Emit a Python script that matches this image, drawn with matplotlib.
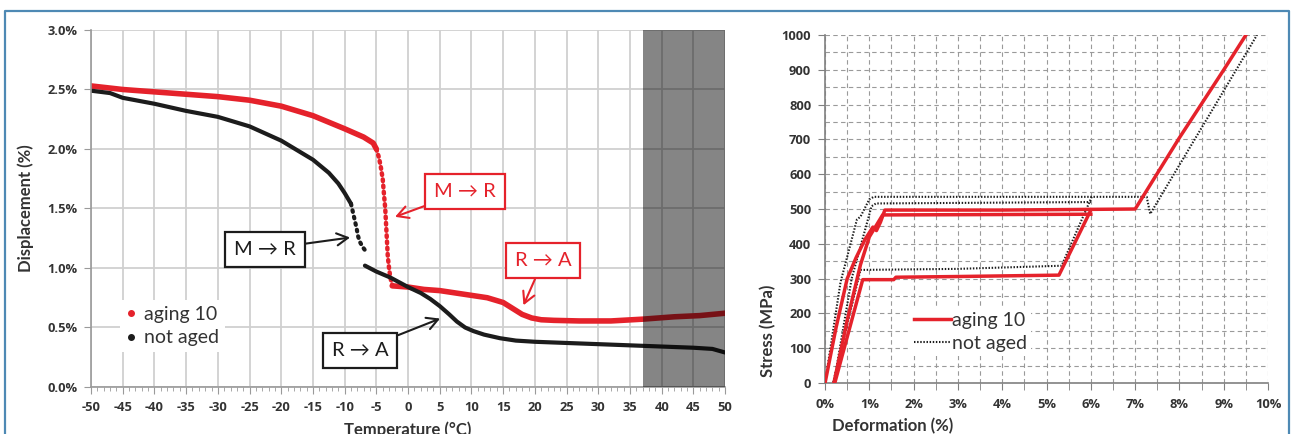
import numpy as np
import matplotlib.pyplot as plt
from matplotlib.lines import Line2D
from matplotlib.ticker import MultipleLocator
from matplotlib.font_manager import FontProperties

plt.rcParams.update({
    "font.family": ["Lato", "DejaVu Sans"],
    "font.size": 9,
    "axes.labelweight": "bold",
    "axes.linewidth": 1.2,
    "xtick.direction": "out",
    "ytick.direction": "out",
})

RED = "#e5222b"
BLACK = "#1c1c1c"
TXT = "#333333"
tickfont = FontProperties(family=["Open Sans", "DejaVu Sans"], weight="bold", size=9.3)

# ---- left panel: displacement (%) vs temperature (C) ----
aged_T1 = [-50, -45, -40, -35, -30, -25, -20, -15, -10, -7, -5.5, -5]
aged_D1 = [2.53, 2.50, 2.48, 2.46, 2.44, 2.41, 2.36, 2.28, 2.17, 2.10, 2.05, 2.00]
aged_drop_T = [-5, -4.6, -4.3, -4.0, -3.8, -3.6, -3.5, -3.4, -3.3, -3.2, -3.0, -2.8, -2.5]
aged_drop_D = [2.00, 1.93, 1.85, 1.75, 1.62, 1.50, 1.40, 1.30, 1.20, 1.10, 1.00, 0.92, 0.86]
aged_T2 = [-2.5, 0, 2.5, 5, 7.5, 10, 12.5, 15, 16.5, 18, 19.5, 21, 23, 27, 32, 37, 42, 46, 50]
aged_D2 = [0.85, 0.84, 0.82, 0.81, 0.79, 0.77, 0.75, 0.71, 0.66, 0.61, 0.58, 0.565, 0.56, 0.555, 0.555, 0.57, 0.59, 0.60, 0.62]

na_T1 = [-50, -47, -45, -40, -35, -30, -25, -20, -17.5, -15, -12.5, -11, -10, -9]
na_D1 = [2.49, 2.47, 2.43, 2.38, 2.32, 2.27, 2.19, 2.07, 1.99, 1.91, 1.80, 1.71, 1.63, 1.54]
na_drop_T = [-9, -8.7, -8.4, -8.1, -7.9, -7.6, -7.2, -6.8]
na_drop_D = [1.54, 1.47, 1.40, 1.33, 1.27, 1.22, 1.18, 1.15]
na_T2 = [-6.8, -5, -2.8, 0, 2, 3.5, 5, 6.5, 7.7, 9, 10.3, 12, 14.5, 17, 20, 25, 30, 35, 40, 45, 48, 50]
na_D2 = [1.02, 0.97, 0.92, 0.84, 0.79, 0.74, 0.68, 0.61, 0.55, 0.50, 0.47, 0.44, 0.41, 0.39, 0.38, 0.37, 0.36, 0.35, 0.34, 0.33, 0.32, 0.29]

shade_T = (37, 50)
temp_ticks = list(range(-50, 51, 5))
disp_ticks = [0.0, 0.5, 1.0, 1.5, 2.0, 2.5, 3.0]

# ---- right panel: stress (MPa) vs deformation (%) ----
r_load_def = [0.0, 0.25, 0.5, 0.7, 0.9, 1.08, 1.16, 1.25, 1.35, 4.0, 7.0, 7.05, 8.0, 9.0, 9.5]
r_load_str = [0, 160, 300, 360, 412, 448, 438, 462, 497, 497, 500, 510, 705, 900, 1000]
r_unload_def = [6.0, 5.28, 3.0, 1.6, 1.55, 0.85, 0.22]
r_unload_str = [497, 310, 306, 304, 297, 297, 0]
r_reload_def = [0.2, 0.5, 0.8, 1.0, 1.3, 6.0]
r_reload_str = [0, 180, 340, 420, 483, 485]

n_load_def = [0.0, 0.35, 0.72, 0.8, 1.0, 1.1, 4.0, 7.26, 7.34, 9.75]
n_load_str = [0, 290, 470, 478, 528, 535, 535, 535, 486, 1000]
n_unload_def = [6.02, 5.34, 3.0, 0.8, 0.18]
n_unload_str = [535, 337, 328, 325, 0]
n_reload_def = [0.2, 0.6, 1.05, 1.15, 6.0]
n_reload_str = [0, 300, 508, 516, 520]

def_ticks = list(range(0, 11))
stress_ticks = list(range(0, 1001, 100))

fig = plt.figure(figsize=(12.95, 4.34), dpi=100)
ax1 = fig.add_axes([0.0703, 0.1083, 0.4896, 0.8226])
ax2 = fig.add_axes([0.6371, 0.1175, 0.3421, 0.8018])

# blue frame
fc = "#4e89b4"
fig.add_artist(Line2D([5/1295, 5/1295, 1289/1295, 1289/1295], [0, 423/434, 423/434, 0],
                      transform=fig.transFigure, color=fc, lw=1.6))

# left panel
ax1.plot(aged_T1, aged_D1, color=RED, lw=4, solid_capstyle="round", zorder=2)
ax1.plot(aged_drop_T, aged_drop_D, color=RED, lw=3.2, ls=(0, (0.4, 1.0)), dash_capstyle="round", zorder=2)
ax1.plot(aged_T2, aged_D2, color=RED, lw=4, solid_capstyle="round", zorder=2)
ax1.plot(na_T1, na_D1, color=BLACK, lw=3, solid_capstyle="round", zorder=2)
ax1.plot(na_drop_T, na_drop_D, color=BLACK, lw=3, ls=(0, (0.4, 1.2)), dash_capstyle="round", zorder=2)
ax1.plot(na_T2, na_D2, color=BLACK, lw=3, solid_capstyle="round", zorder=2)
ax1.axvspan(*shade_T, color="black", alpha=0.48, lw=0, zorder=3)

ax1.set_xlim(-50, 50)
ax1.set_ylim(0, 3.0)
ax1.set_xticks(temp_ticks)
ax1.set_xticklabels([str(t) for t in temp_ticks], fontproperties=tickfont)
ax1.xaxis.set_minor_locator(MultipleLocator(1))
ax1.set_yticks(disp_ticks)
ax1.set_yticklabels(["%.1f%%" % d for d in disp_ticks], fontproperties=tickfont)
ax1.grid(True, which="major", color="#d0d0d0", lw=1.3)
ax1.set_axisbelow(True)
for s in ["top", "right"]:
    ax1.spines[s].set_visible(False)
for s in ["left", "bottom"]:
    ax1.spines[s].set_color("#9a9a9a")
ax1.tick_params(axis="both", which="major", length=5, color="#9a9a9a", labelcolor=TXT)
ax1.tick_params(axis="x", which="major", pad=5)
ax1.tick_params(axis="y", which="major", pad=5)
ax1.tick_params(axis="x", which="minor", length=3, color="#9a9a9a")
ax1.set_ylabel("Displacement (%)", fontsize=12, color=TXT)
ax1.yaxis.set_label_coords(-0.09, 0.5)
ax1.set_xlabel("Temperature (°C)", fontsize=12, color=TXT)
ax1.xaxis.set_label_coords(0.5, -0.096)

leg1 = ax1.legend([Line2D([], [], ls="none", marker="o", color=RED, ms=4),
                   Line2D([], [], ls="none", marker="o", color=BLACK, ms=4)],
                  ["aging 10", "not aged"], loc="lower left", bbox_to_anchor=(0.03, 0.07),
                  fontsize=14, frameon=True, fancybox=False, framealpha=1, edgecolor="none",
                  handlelength=0.6, handletextpad=0.35, borderpad=0.3, labelspacing=0.35)
for t in leg1.get_texts():
    t.set_color(TXT)

boxfont = dict(fontsize=14.5, ha="center", va="center")
arr = "->,head_length=0.55,head_width=0.3"
ax1.annotate("M → R", xy=(-2.05, 1.43), xytext=(9.0, 1.646), color=RED, **boxfont,
             bbox=dict(boxstyle="square,pad=0.45", fc="white", ec=RED, lw=1.6),
             arrowprops=dict(arrowstyle=arr, color=RED, lw=1.5, shrinkA=0, shrinkB=0), zorder=5)
ax1.annotate("R → A", xy=(18.2, 0.687), xytext=(21.3, 1.061), color=RED, **boxfont,
             bbox=dict(boxstyle="square,pad=0.45", fc="white", ec=RED, lw=1.6),
             arrowprops=dict(arrowstyle=arr, color=RED, lw=1.5, shrinkA=0, shrinkB=0), zorder=5)
ax1.annotate("M → R", xy=(-9.15, 1.256), xytext=(-22.56, 1.158), color=BLACK, **boxfont,
             bbox=dict(boxstyle="square,pad=0.45", fc="white", ec=BLACK, lw=1.6),
             arrowprops=dict(arrowstyle=arr, color=BLACK, lw=1.5, shrinkA=0, shrinkB=0), zorder=5)
ax1.annotate("R → A", xy=(5.05, 0.575), xytext=(-7.57, 0.309), color=BLACK, **boxfont,
             bbox=dict(boxstyle="square,pad=0.45", fc="white", ec=BLACK, lw=1.6),
             arrowprops=dict(arrowstyle=arr, color=BLACK, lw=1.5, shrinkA=0, shrinkB=0), zorder=5)

# right panel
for d, s in [(r_load_def, r_load_str), (r_unload_def, r_unload_str), (r_reload_def, r_reload_str)]:
    ax2.plot(d, s, color=RED, lw=2.5, zorder=3)
for d, s in [(n_load_def, n_load_str), (n_unload_def, n_unload_str), (n_reload_def, n_reload_str)]:
    ax2.plot(d, s, color=BLACK, lw=1.5, ls=(0, (0.7, 0.8)), zorder=2)

ax2.set_xlim(0, 10)
ax2.set_ylim(0, 1000)
ax2.set_xticks(def_ticks)
ax2.set_xticklabels(["%d%%" % v for v in def_ticks], fontproperties=tickfont)
ax2.xaxis.set_minor_locator(MultipleLocator(0.5))
ax2.set_yticks(stress_ticks)
ax2.set_yticklabels([str(v) for v in stress_ticks], fontproperties=tickfont)
ax2.yaxis.set_minor_locator(MultipleLocator(50))
ax2.grid(True, which="both", color="#9a9a9a", lw=0.8, ls=(0, (4, 3)))
ax2.set_axisbelow(True)
for s in ["top", "right"]:
    ax2.spines[s].set_visible(False)
for s in ["left", "bottom"]:
    ax2.spines[s].set_color("#808080")
ax2.tick_params(axis="both", which="major", length=5, color="#808080", labelcolor=TXT)
ax2.tick_params(axis="y", which="minor", length=0)
ax2.tick_params(axis="x", which="minor", length=5, color="#808080")
ax2.tick_params(axis="x", which="major", pad=6)
ax2.tick_params(axis="y", which="major", pad=5)
ax2.set_ylabel("Stress (MPa)", fontsize=12, color=TXT)
ax2.yaxis.set_label_coords(-0.11, 0.15)
ax2.set_xlabel("Deformation (%)", fontsize=12, color=TXT)
ax2.xaxis.set_label_coords(0.153, -0.1)

leg2 = ax2.legend([Line2D([], [], color=RED, lw=2.5),
                   Line2D([], [], color=BLACK, lw=1.5, ls=(0, (0.7, 0.8)))],
                  ["aging 10", "not aged"], loc="lower left", bbox_to_anchor=(0.17, 0.05),
                  fontsize=14, frameon=True, fancybox=False, framealpha=1, edgecolor="none",
                  handlelength=1.9, handletextpad=0.05, borderpad=0.2, labelspacing=0.3)
for t in leg2.get_texts():
    t.set_color(TXT)

fig.savefig("out.png", dpi=100)
